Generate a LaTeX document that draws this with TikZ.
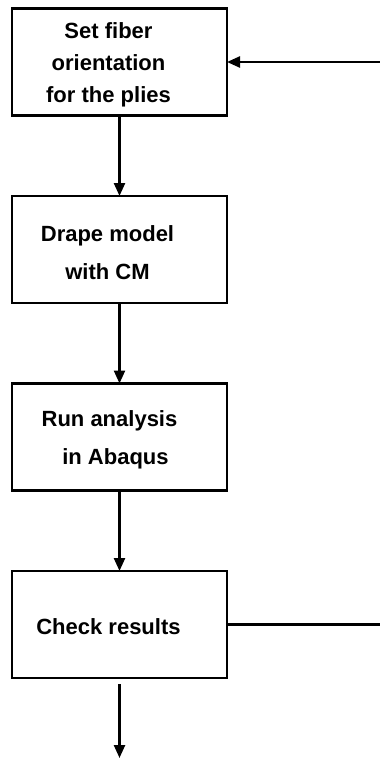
\documentclass[tikz,border=0pt]{standalone}
\usepackage{fontspec}
\setmainfont{Liberation Sans}
\usetikzlibrary{positioning,arrows.meta}

\begin{document}
\begin{tikzpicture}[x=1pt,y=1pt,
  stepbox/.style={draw, line width=2.8pt, minimum width=215pt, minimum height=107pt, outer sep=0pt},
  boxtext/.style={font=\bfseries\fontsize{22}{32}\selectfont, align=center, inner sep=0pt},
  flow/.style={line width=2.4pt, -{Triangle[length=13pt,width=11pt]}},
  node distance=80.5pt]

\useasboundingbox (0,0) rectangle (380,-758);

\node [stepbox] (fiber) at (119.5,-62) {};
\node [stepbox, below=of fiber] (drape) {};
\node [stepbox, below=of drape] (run) {};
\node [stepbox, below=of run] (check) {};

\node [boxtext] (fibertxt) at ([xshift=-11pt,yshift=-3pt]fiber.center) {Set fiber\\orientation\\for the plies};
\node [boxtext, font=\bfseries\fontsize{22}{38}\selectfont] (drapetxt) at ([xshift=-12pt,yshift=-3pt]drape.center) {Drape model\\with CM};
\node [boxtext, font=\bfseries\fontsize{22}{38}\selectfont] (runtxt) at ([xshift=-10pt,yshift=-3pt]run.center) {Run analysis\\\hspace*{12pt}in Abaqus};
\node [boxtext] (checktxt) at ([xshift=-11pt,yshift=-2pt]check.center) {Check results};

\draw [flow] (fiber) -- (drape);
\draw [flow] (drape) -- (run);
\draw [flow] (run) -- (check);

% loop back on the right
\coordinate (edge) at (380,0);
\draw [line width=2.4pt] (check.east) -- (check.east -| edge);
\draw [flow] (fiber.east -| edge) -- (fiber.east);

\coordinate (out) at ([yshift=-80pt]check.south);
\draw [flow] ([yshift=-6pt]check.south) -- (out);

\end{tikzpicture}
\end{document}
